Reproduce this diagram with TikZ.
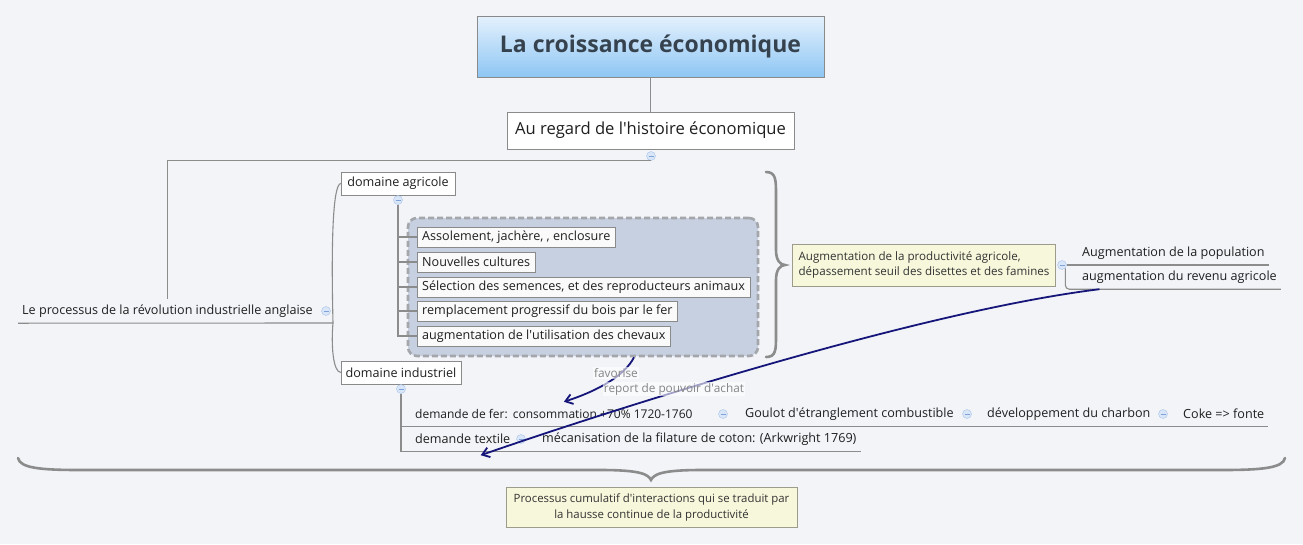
\documentclass[tikz,border=0pt]{standalone}
\usepackage{fontspec}
\setmainfont{Open Sans}
\usepackage{xcolor}
\usepackage{tikz}
\usetikzlibrary{arrows.meta,positioning,calc}

\definecolor{bgc}{HTML}{F2F4F8}
\definecolor{boxgray}{HTML}{8A8A8A}
\definecolor{linegray}{HTML}{8C8C8C}
\definecolor{titletop}{HTML}{E4F1FD}
\definecolor{titlebot}{HTML}{8EC6F4}
\definecolor{titletext}{HTML}{36434F}
\definecolor{grpfill}{HTML}{C7D0E1}
\definecolor{grpdash}{HTML}{A3A6AB}
\definecolor{noteyel}{HTML}{F7F7DC}
\definecolor{notegray}{HTML}{9C9C8C}
\definecolor{mkfill}{HTML}{D8E6F8}
\definecolor{mkdraw}{HTML}{A9C3E8}
\definecolor{mkline}{HTML}{7FA3D8}
\definecolor{navy}{HTML}{15157A}
\definecolor{lblgray}{HTML}{858585}
\newcommand{\apos}{\textquotesingle}

\begin{document}
\begin{tikzpicture}[x=1pt,y=-1pt,
  txt/.style={font=\fontsize{12.6}{15}\selectfont,text=black!88},
  box/.style={txt,draw=boxgray,fill=white,inner sep=0pt},
  title/.style={draw=boxgray,top color=titletop,bottom color=titlebot,
                minimum width=347pt,minimum height=61pt,
                font=\fontsize{23}{27}\selectfont\bfseries,text=titletext},
  item/.style={box,anchor=west,minimum height=20pt,inner xsep=5pt,fill=white!96!gray},
  topic/.style={txt,anchor=west,inner xsep=4pt,inner ysep=0pt,minimum height=24pt},
  grp/.style={draw=grpdash,fill=grpfill,line width=2.6pt,dash pattern=on 6pt off 3pt,
              rounded corners=9pt,minimum width=350pt,minimum height=138pt},
  note/.style={draw=notegray,fill=noteyel,font=\fontsize{11.6}{15}\selectfont,
               text=black!80,inner xsep=6pt},
  mk/.style={circle,draw=mkdraw,fill=mkfill,minimum size=9pt,inner sep=0pt,
             path picture={\draw[mkline,line width=1pt]
               ([xshift=-2.5pt]path picture bounding box.center) --
               ([xshift=2.5pt]path picture bounding box.center);}},
  conn/.style={draw=linegray,line width=1.1pt},
  brc/.style={draw=linegray,line width=2.6pt,line cap=round},
  rel/.style={draw=navy,line width=1.8pt,-{Straight Barb[length=7pt,width=10pt]}},
  lbl/.style={font=\fontsize{11.8}{14}\selectfont,text=lblgray,inner sep=1pt,
              fill=white,fill opacity=0.6,text opacity=1}]
\useasboundingbox (0,0) rectangle (1303,544);
\fill[bgc] (0,0) rectangle (1303,544);

\node[title] (titre) at (650.5,46.5) {La croissance économique};
\node[box,minimum width=287pt,minimum height=37pt,font=\fontsize{16.6}{20}\selectfont]
  (regard) at (650.5,130.5) {Au regard de l\apos histoire économique};
\node[mk] (m0) at (651,156) {};
\draw[conn] (titre) -- (regard);

\node[topic] (proc) at (18,311) {Le processus de la révolution industrielle anglaise};
\node[mk] (m1) at (326,311) {};
\coordinate (j1) at (333,323);
\draw[conn] (m0.south) -| (proc.north);
\draw[conn] (proc.south west) -- (j1);

\node[box,minimum width=114pt,minimum height=23pt] (agri) at (398,183.5) {domaine agricole};
\node[mk] (m2) at (398,200) {};
\node[box,minimum width=120pt,minimum height=23pt] (ind) at (401,372.5) {domaine industriel};
\node[mk] (m4) at (401,389) {};
\draw[conn] (j1) .. controls (331,240) and (333,184) .. (agri.west);
\draw[conn] (j1) .. controls (331,345) and (333,372) .. (ind.west);

\node[grp] (grp) at (583,287) {};
\node[item] (i1) at (417,237) {Assolement, jachère, , enclosure};
\node[item] (i2) at (417,262) {Nouvelles cultures};
\node[item] (i3) at (417,287) {Sélection des semences, et des reproducteurs animaux};
\node[item] (i4) at (417,311) {remplacement progressif du bois par le fer};
\node[item] (i5) at (417,336) {augmentation de l\apos utilisation des chevaux};
\draw[conn] (m2.south) |- (i5.west);
\draw[conn] (m2 |- i1.west) -- (i1.west);
\draw[conn] (m2 |- i2.west) -- (i2.west);
\draw[conn] (m2 |- i3.west) -- (i3.west);
\draw[conn] (m2 |- i4.west) -- (i4.west);

\draw[brc] (766,172) .. controls (776,172) and (776,180) .. (776,195) -- (776,250)
  .. controls (776,260) and (780,265) .. (785,265)
  .. controls (780,265) and (776,270) .. (776,280) -- (776,335)
  .. controls (776,350) and (776,357) .. (766,357);
\node[note,align=left,minimum width=262pt,minimum height=42pt] (prod) at (924,265)
  {Augmentation de la productivité agricole,\\ dépassement seuil des disettes et des famines};
\node[mk] (m3) at (1062,265) {};
\node[topic] (pop) at (1078,253) {Augmentation de la population};
\node[topic] (rev) at (1078,277) {augmentation du revenu agricole};
\draw[conn] (m3.east) -- (m3.east -| pop.south east);
\draw[conn,rounded corners=4pt] (m3.south east) |- (rev.south east);

\node[topic,font=\fontsize{12}{15}\selectfont] (fer) at (411,414)
  {demande de fer:\ \,consommation +70\% 1720-1760};
\node[mk] (m5) at (723,414) {};
\node[topic] (goulot) at (741,414) {Goulot d\apos étranglement combustible};
\node[mk] (m6) at (967,414) {};
\node[topic] (charb) at (983,414) {développement du charbon};
\node[mk] (m7) at (1163,414) {};
\node[topic] (coke) at (1179,414) {Coke => fonte};
\node[topic] (tex) at (411,439) {demande textile};
\node[mk] (m8) at (521,439) {};
\node[topic] (meca) at (538,439) {mécanisation de la filature de coton: (Arkwright 1769)};
\draw[conn] (m4.south) |- (coke.south east);
\draw[conn] (m4.south) |- (meca.south east);

\draw[rel] ([xshift=51pt]grp.south) .. controls (625,375) and (600,390) .. ([xshift=10pt]fer.north);
\node[lbl] (fav) at (616,373) {favorise};
\draw[rel] ([xshift=-80pt]rev.south) .. controls (930,310) and (640,400) .. ([xshift=18pt,yshift=-4pt]tex.south);
\node[lbl] (achat) at (674,389) {report de pouvoir d\apos achat};

\draw[brc] (18,458) .. controls (20,468) and (40,470) .. (80,470) -- (600,470)
  .. controls (640,470) and (648,474) .. (651,480)
  .. controls (654,474) and (662,470) .. (702,470) -- (1222,470)
  .. controls (1262,470) and (1283,468) .. (1285,458);
\node[note,align=center,minimum width=291pt,minimum height=40pt,font=\fontsize{11.4}{16}\selectfont]
  (cumul) at (651.5,507) {Processus cumulatif d\apos interactions qui se traduit par\\ la hausse continue de la productivité};
\end{tikzpicture}
\end{document}
